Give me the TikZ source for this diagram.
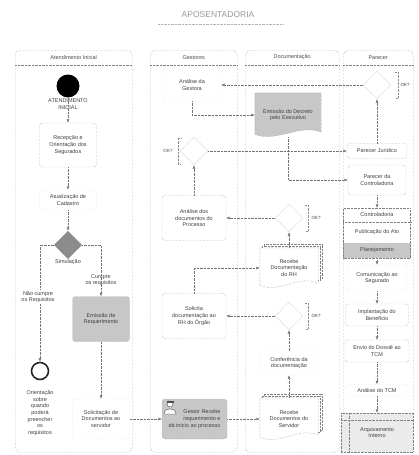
\documentclass[tikz,border=0pt]{standalone}
\usepackage{fontspec}
\setmainfont{Liberation Sans}
\usetikzlibrary{arrows.meta,positioning,shapes.geometric,backgrounds}

\newcommand{\docpath}[1]{(#1.north west) -- (#1.north east) -- ([yshift=5pt]#1.south east) .. controls ([xshift=-20pt,yshift=14pt]#1.south east) and ([xshift=20pt,yshift=-6pt]#1.south west) .. ([yshift=3pt]#1.south west) -- cycle}

\tikzset{
  lane/.style={draw=black!50, densely dotted, rounded corners=5pt, minimum height=402pt, anchor=north west},
  lanehead/.style={font=\fontsize{5.5}{6.5}\selectfont, text=black!70},
  task/.style={draw=black!50, densely dotted, rounded corners=3pt, align=center, font=\fontsize{5.5}{6.7}\selectfont, text=black!75, inner sep=1pt},
  faint/.style={task, draw=black!20},
  graybox/.style={task, fill=black!22},
  gate/.style={diamond, draw=black!55, densely dotted, minimum size=28pt, inner sep=0pt},
  event/.style={circle, inner sep=0pt},
  lbl/.style={align=center, font=\fontsize{5.5}{6.7}\selectfont, text=black!75, inner sep=1pt},
  oknote/.style={lbl, font=\fontsize{4.5}{5}\selectfont},
  doc/.style={lbl, minimum width=60pt, minimum height=42pt},
  docline/.style={draw=black!50, densely dotted, fill=white},
  flow/.style={draw=black!55, densely dotted, -{Latex[length=3.5pt,width=3pt]}},
  bracket/.style={draw=black!45, densely dotted},
}

\begin{document}
\begin{tikzpicture}[x=1pt,y=-1pt]
\useasboundingbox (0,0) rectangle (419,455);

% title
\node[font=\fontsize{8.5}{9}\selectfont, text=black!40] (title) at (218,15) {APOSENTADORIA};
\draw[black!30, densely dotted] (158,24) -- (283,24);

% lanes
\node[lane, minimum width=117pt] (lane1) at (15,50) {};
\node[lane, minimum width=87pt] (lane2) at (150,50) {};
\node[lane, minimum width=94pt] (lane3) at (245,50) {};
\node[lane, minimum width=70pt] (lane4) at (343,50) {};
\foreach \l/\t in {lane1/Atendimento Inicial, lane2/Gestores, lane3/Documentação, lane4/Parecer} {
  \node[lanehead] (\l-head) at ([yshift=-7.5pt]\l.north) {\t};
  \draw[black!50, densely dotted] ([yshift=-15pt]\l.north west) -- ([yshift=-15pt]\l.north east);
}

% Atendimento Inicial
\node[event, fill=black, minimum size=23pt] (start) at (68,86) {};
\node[lbl] (startlbl) [below=0pt of start] {ATENDIMENTO\\INICIAL};
\node[task, minimum width=57pt, minimum height=44pt] (recep) at (68,145) {Recepção e\\Orientação dos\\Segurados};
\node[faint, minimum width=57pt, minimum height=20pt] (cadastro) at (68,200) {Atualização de\\Cadastro};
\node[gate, fill=black!45] (sim) at (68,245) {};
\node[lbl] (simlbl) at (68,262) {Simulação};
\node[event, draw=black!85, line width=1.6pt, minimum size=17pt] (fim) at (40,371) {};
\node[lbl] (fimlbl) at (40,413) {Orientação\\sobre\\quando\\poderá\\preencher\\os\\requisitos};
\node[lbl] (cumpre) at (101,280) {Cumpre\\os requisitos};
\node[graybox, minimum width=57pt, minimum height=45pt] (emissao) at (101,319) {Emissão de\\Requerimento};
\node[faint, minimum width=57pt, minimum height=40pt] (solic) at (101,419) {Solicitação de\\Documentos ao\\servidor};

% Gestores
\node[faint, draw=black!15, minimum width=58pt, minimum height=32pt] (gestora) at (192,85) {Análise da\\Gestora};
\node[gate] (okg) at (194,151) {};
\node[task, minimum width=64pt, minimum height=45pt] (analise) at (194,218) {Análise dos\\documentos do\\Processo};
\node[task, minimum width=64pt, minimum height=45pt] (solicita) at (194,316) {Solicita\\documentação ao\\RH do Órgão};
\node[graybox, align=right, minimum width=65pt, minimum height=40pt] (gestor) at (194.5,419) {Gestor Recebe\\requerimento e\\dá início ao processo};
\draw[black!70, fill=white] (164,414) .. controls (164,407) and (176,407) .. (176,414) -- cycle;
\draw[black!70, fill=white] (170,404) circle (3pt);
\fill[black!70] (166.5,400.5) rectangle (173.5,402.5);

% Documentacao
\node[doc, minimum width=66pt, minimum height=44pt] (decreto) at (288,115) {Emissão do Decreto\\pelo Executivo};
\node[gate] (okd1) at (289,218) {};
\node[doc, minimum width=58pt, minimum height=40pt] (rh) at (289,268) {Recebe\\Documentação\\do RH};
\node[gate] (okd2) at (289,316) {};
\node[faint, draw=black!15, minimum width=58pt, minimum height=24pt] (confer) at (289,363) {Conferência da\\documentação};
\node[doc, minimum width=58pt, minimum height=42pt] (recebe) at (289,419) {Recebe\\Documentos do\\Servidor};

% Parecer
\node[gate] (okp) at (377,85) {};
\node[task, minimum width=60pt, minimum height=15pt] (juridico) at (377,151) {Parecer Jurídico};
\node[task, minimum width=58pt, minimum height=30pt] (controla) at (377,180) {Parecer da\\Controladoria};
\node[draw=black!50, densely dotted, minimum width=67pt, minimum height=50pt] (grupo) at (377,233) {};
\draw[black!50, densely dotted] ([yshift=-14pt]grupo.north west) -- ([yshift=-14pt]grupo.north east);
\node[lbl] (grupo-a) at (377,215) {Controladoria};
\node[lbl] (grupo-b) at (377,232) {Publicação do Ato};
\node[lbl] (grupo-c) at (377,250) {Planejamento};
\node[faint, minimum width=60pt, minimum height=26pt] (comunica) at (377,278) {Comunicação ao\\Segurado};
\node[task, minimum width=63pt, minimum height=22pt] (implanta) at (377,315) {Implantação do\\Benefício};
\node[task, minimum width=64pt, minimum height=22pt] (envio) at (377,351) {Envio do Dossiê ao\\TCM};
\node[faint, minimum width=62pt, minimum height=11pt] (tcm) at (377,390) {Análise do TCM};
\node[task, rounded corners=0pt, fill=black!8, minimum width=72pt, minimum height=39pt] (arquivo) at (377,432.5) {Arquivamento\\Interno};
\draw[black!50, densely dotted] ([xshift=8pt]arquivo.north west) -- ([xshift=8pt]arquivo.south west);
\draw[black!50, densely dotted] ([yshift=-7pt]arquivo.north west) -- ([yshift=-7pt]arquivo.north east);

% annotations
\node[oknote] (ok1) at (168,151) {OK?};
\draw[bracket] (181,138) -- (178,138) -- (178,164) -- (181,164);
\node[oknote] (ok2) at (316,218) {OK?};
\draw[bracket] (305,205) -- (308,205) -- (308,231) -- (305,231);
\node[oknote] (ok3) at (316,316) {OK?};
\draw[bracket] (305,303) -- (308,303) -- (308,329) -- (305,329);
\node[oknote] (ok4) at (405,85) {OK?};
\draw[bracket] (395,72) -- (398,72) -- (398,98) -- (395,98);

% shapes behind
\begin{scope}[on background layer]
  \draw[docline, fill=black!22] \docpath{decreto};
  \foreach \d in {rh, recebe} {
    \draw[docline] ([xshift=4pt,yshift=4pt]\d.north west) rectangle ([xshift=4pt,yshift=10pt]\d.south east);
    \draw[docline] ([xshift=2pt,yshift=2pt]\d.north west) rectangle ([xshift=2pt,yshift=8pt]\d.south east);
    \draw[docline] \docpath{\d};
  }
  \fill[black!22] (grupo.south west) rectangle ([yshift=15pt]grupo.south east);
\end{scope}

% flows
\draw[flow] (start) -- (recep);
\draw[flow] (recep) -- (cadastro);
\draw[flow] (cadastro) -- (sim);
\draw[flow] (sim) -| (fim);
\draw[flow] (sim) -| (emissao);
\node[lbl, fill=white] (nao) at (38,297) {Não cumpre\\os Requisitos};
\draw[flow] (emissao) -- (solic);
\draw[flow] (solic) -- (gestor);
\draw[flow] (gestor) -- (recebe);
\draw[flow] (recebe) -- (confer);
\draw[flow] (confer) -- (okd2);
\draw[flow] (okd2) -- (solicita);
\draw[flow] (solicita) |- (rh);
\draw[flow] (rh) -- (okd1);
\draw[flow] (okd1) -- (analise);
\draw[flow] (analise) -- (okg);
\draw[flow] (okg) -- (juridico);
\draw[flow] (juridico) -- (okp);
\draw[flow] (okp) -- (gestora);
\draw[flow] (gestora) |- (decreto);
\draw[flow] (decreto) |- (controla);
\draw[flow] (controla) -- (grupo);
\draw[flow] (grupo) -- (comunica);
\draw[flow] (comunica) -- (implanta);
\draw[flow] (implanta) -- (envio);
\draw[flow] (envio) -- (tcm);
\draw[flow] (tcm) -- (arquivo);
\end{tikzpicture}
\end{document}
